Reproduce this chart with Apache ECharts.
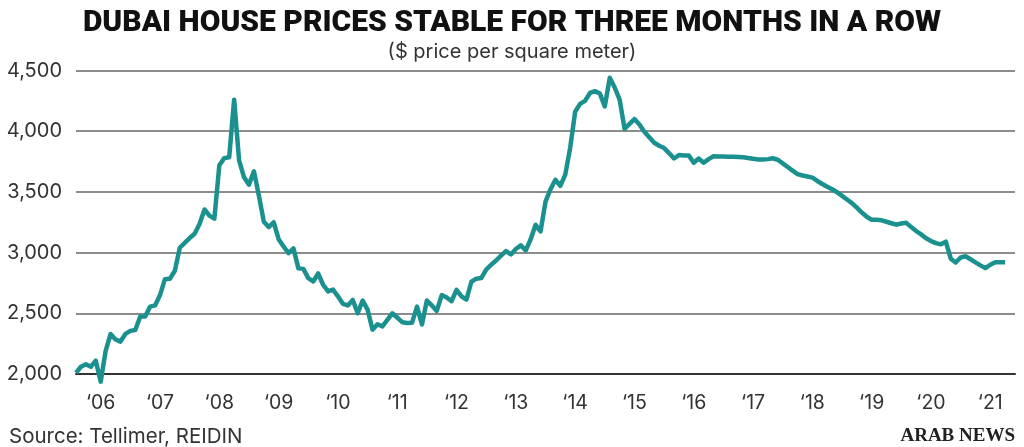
<!DOCTYPE html>
<html>
<head>
<meta charset="utf-8">
<script src="https://cdn.jsdelivr.net/npm/echarts@6/dist/echarts.min.js"></script>
<style>
  html, body { margin: 0; padding: 0; background: #fff; }
  #main { width: 1024px; height: 447px; }
</style>
</head>
<body>
<div id="main"></div>
<script>
// monthly prices, Feb 2006 - Oct 2021 ($ per square meter)
const firstYear = 2006;
const firstMonth = 2;
const prices = [
  2010, 2060, 2080, 2060, 2110, 1937, 2190, 2330, 2285, 2267, 2330, 2355,
  2363, 2473, 2473, 2555, 2565, 2650, 2781, 2785, 2850, 3040, 3080, 3120,
  3155, 3235, 3355, 3305, 3280, 3720, 3778, 3785, 4260, 3760, 3620, 3560,
  3670, 3470, 3255, 3210, 3250, 3110, 3050, 2995, 3035, 2870, 2866, 2790,
  2762, 2828, 2735, 2680, 2695, 2640, 2578, 2565, 2610, 2500, 2605, 2530,
  2365, 2410, 2392, 2445, 2500, 2465, 2427, 2420, 2423, 2555, 2408, 2605,
  2565, 2520, 2650, 2630, 2600, 2693, 2640, 2613, 2760, 2785, 2790, 2860,
  2900, 2935, 2975, 3012, 2985, 3030, 3060, 3018, 3110, 3229, 3174, 3420,
  3520, 3600, 3550, 3642, 3865, 4160, 4225, 4250, 4315, 4330, 4310, 4205,
  4440, 4360, 4260, 4020, 4060, 4100, 4055, 3995, 3950, 3905, 3880, 3861,
  3820, 3775, 3803, 3800, 3799, 3740, 3775, 3740, 3770, 3793, 3792, 3791,
  3790, 3789, 3788, 3786, 3780, 3773, 3767, 3767, 3770, 3777, 3765, 3735,
  3705, 3675, 3646, 3635, 3627, 3618, 3590, 3565, 3542, 3522, 3497, 3467,
  3437, 3408, 3370, 3330, 3295, 3270, 3270, 3266, 3254, 3242, 3230, 3240,
  3245, 3210, 3178, 3150, 3118, 3095, 3078, 3068, 3090, 2950, 2918, 2960,
  2970, 2945, 2920, 2895, 2872, 2900, 2921, 2921, 2921
];
const yTicks = [2000, 2500, 3000, 3500, 4000, 4500];

// month categories, with two empty months so the grid runs to the end of 2021
const months = [];
for (let i = 0; i < prices.length + 2; i++) {
  const m = firstMonth - 1 + i;
  const y = firstYear + Math.floor(m / 12);
  months.push(y + '-' + String((m % 12) + 1).padStart(2, '0'));
}
const seriesData = months.map((_, i) => (i < prices.length ? prices[i] : '-'));

const myChart = echarts.init(document.getElementById('main'));
const font = 'Inter, Roboto, sans-serif';

const option = {
  animation: false,
  title: [
    {
      text: 'DUBAI HOUSE PRICES STABLE FOR THREE MONTHS IN A ROW',
      left: 'center',
      top: 3,
      textStyle: { fontFamily: 'Roboto, sans-serif', fontWeight: 900, fontSize: 30, color: '#111' },
    },
    {
      text: '($ price per square meter)',
      left: 'center',
      top: 37,
      textStyle: { fontFamily: font, fontWeight: 'normal', fontSize: 20, color: '#333' },
    },
    {
      text: 'Source: Tellimer, REIDIN',
      left: 4,
      top: 421,
      textStyle: { fontFamily: font, fontWeight: 'normal', fontSize: 20.5, color: '#333' },
    },
    {
      text: 'ARAB NEWS',
      right: 4,
      top: 422,
      textStyle: { fontFamily: '"Liberation Serif", "DejaVu Serif", serif', fontWeight: 'bold', fontSize: 19, color: '#222' },
    },
  ],
  grid: { left: 76, right: 9, top: 70.5, bottom: 73 },
  xAxis: {
    type: 'category',
    boundaryGap: false,
    data: months,
    axisLine: { show: true, lineStyle: { color: '#333', width: 2 } },
    axisTick: { show: false },
    axisLabel: {
      interval: (i, v) => v.endsWith('-07'),
      formatter: (v) => '\u2018' + v.slice(2, 4),
      margin: 19,
      fontFamily: font,
      fontSize: 19.5,
      color: '#333',
    },
    splitLine: { show: false },
  },
  yAxis: {
    type: 'value',
    min: yTicks[0],
    max: yTicks[yTicks.length - 1],
    interval: 500,
    axisLine: { show: false },
    axisTick: { show: false },
    axisLabel: {
      margin: 14,
      fontFamily: font,
      fontSize: 20,
      color: '#333',
      formatter: (v) => v.toLocaleString('en-US'),
    },
    splitLine: { lineStyle: { color: '#666', width: 1.5 } },
  },
  series: [
    {
      type: 'line',
      data: seriesData,
      symbol: 'none',
      clip: false,
      lineStyle: { color: '#1b918f', width: 4.5, join: 'round' },
    },
  ],
};

myChart.setOption(option);
</script>
</body>
</html>
